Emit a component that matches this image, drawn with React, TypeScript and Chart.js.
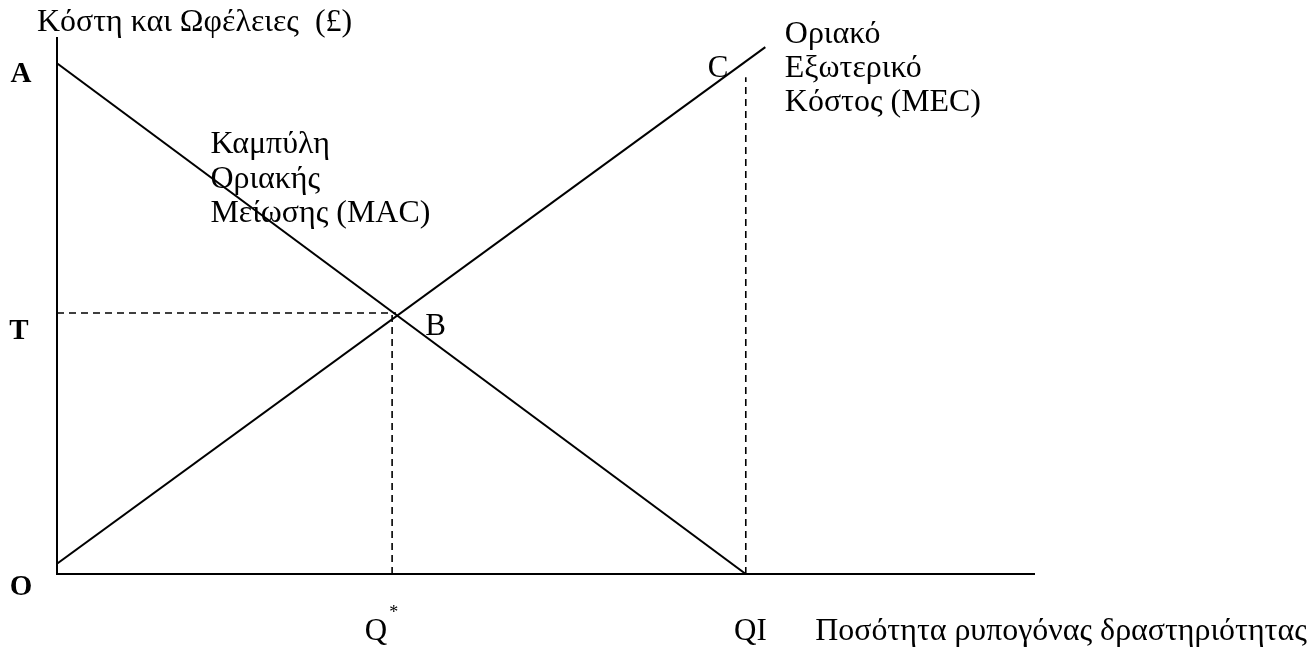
import React, { useEffect, useRef } from "react";
import { Chart, registerables } from "chart.js";

Chart.register(...registerables);

// Curves (x: quantity of polluting activity, y: costs & benefits), axis range 0..100
const macCurve = [
  { x: 0, y: 95.3 },
  { x: 70.5, y: 0 },
];
const mecCurve = [
  { x: 0, y: 1.9 },
  { x: 72.5, y: 98.3 },
];
const tLevel = 48.7;
const qStar = 34.3;
const qI = 70.5;
const cLevel = 92.7;
const bX = 34.7;

const SERIF = '"Liberation Serif", "Times New Roman", serif';

type Note = { text: string; x: number; y: number; size: number; bold?: boolean; align?: CanvasTextAlign; sx?: number };

const notes: Note[] = [
  { text: "Κόστη και Ωφέλειες  (£)", x: -2.05, y: 101.3, size: 31, sx: 1.03 },
  { text: "A", x: -3.68, y: 91.8, size: 29, bold: true, align: "center" },
  { text: "T", x: -3.89, y: 43.8, size: 29, bold: true, align: "center" },
  { text: "O", x: -3.68, y: -3.9, size: 29, bold: true, align: "center" },
  { text: "B", x: 37.7, y: 44.6, size: 31 },
  { text: "C", x: 66.6, y: 92.7, size: 31 },
  { text: "Q", x: 31.5, y: -12.3, size: 31 },
  { text: "*", x: 34.0, y: -8.2, size: 18 },
  { text: "QI", x: 69.3, y: -12.3, size: 31 },
  { text: "Ποσότητα ρυπογόνας δραστηριότητας", x: 77.6, y: -12.3, size: 31, sx: 1.03 },
  { text: "Οριακό", x: 74.5, y: 99.1, size: 31, sx: 1.03 },
  { text: "Εξωτερικό", x: 74.5, y: 92.7, size: 31, sx: 1.03 },
  { text: "Κόστος (MEC)", x: 74.5, y: 86.4, size: 31, sx: 1.03 },
  { text: "Καμπύλη", x: 15.7, y: 78.5, size: 31, sx: 1.03 },
  { text: "Οριακής", x: 15.7, y: 72.1, size: 31, sx: 1.03 },
  { text: "Μείωσης (MAC)", x: 15.7, y: 65.7, size: 31, sx: 1.03 },
];

const notesPlugin = {
  id: "notes",
  afterDraw(chart: any) {
    const ctx = chart.ctx as CanvasRenderingContext2D;
    const xs = chart.scales.x;
    const ys = chart.scales.y;
    for (const n of notes) {
      ctx.save();
      ctx.fillStyle = "#000";
      ctx.textBaseline = "alphabetic";
      ctx.font = `${n.bold ? "bold " : ""}${n.size}px ${SERIF}`;
      ctx.textAlign = n.align || "left";
      ctx.translate(xs.getPixelForValue(n.x), ys.getPixelForValue(n.y));
      ctx.scale(n.sx || 1, 1);
      ctx.fillText(n.text, 0, 0);
      ctx.restore();
    }
  },
};

export default function App() {
  const ref = useRef<HTMLCanvasElement | null>(null);
  useEffect(() => {
    if (!ref.current) return;
    const solid = { borderColor: "#000", borderWidth: 2, pointRadius: 0, showLine: true, fill: false };
    const dashed = { borderColor: "#000", borderWidth: 1.6, borderDash: [7, 5], pointRadius: 0, showLine: true, fill: false };
    const chart = new Chart(ref.current, {
      type: "scatter",
      data: {
        datasets: [
          { label: "MAC", data: macCurve, ...solid },
          { label: "MEC", data: mecCurve, ...solid },
          { label: "T", data: [{ x: 0, y: tLevel }, { x: bX, y: tLevel }], ...dashed },
          { label: "Q*", data: [{ x: qStar, y: 0 }, { x: qStar, y: tLevel }], ...dashed },
          { label: "QI", data: [{ x: qI, y: 0 }, { x: qI, y: cLevel }], ...dashed },
        ],
      },
      options: {
        animation: false,
        responsive: false,
        layout: { padding: { left: 57, right: 277, top: 38, bottom: 73 } },
        plugins: { legend: { display: false }, tooltip: { enabled: false } },
        scales: {
          x: {
            type: "linear",
            min: 0,
            max: 100,
            grid: { display: false },
            ticks: { display: false },
            border: { display: true, color: "#000", width: 2 },
            afterFit: (s: any) => {
              s.height = 0;
            },
          },
          y: {
            type: "linear",
            min: 0,
            max: 100,
            grid: { display: false },
            ticks: { display: false },
            border: { display: true, color: "#000", width: 2 },
            afterFit: (s: any) => {
              s.width = 0;
            },
          },
        },
      },
      plugins: [notesPlugin],
    } as any);
    return () => chart.destroy();
  }, []);
  return (
    <div style={{ position: "absolute", left: 0, top: 0, width: 1311, height: 647, background: "#fff" }}>
      <canvas ref={ref} width={1311} height={647} style={{ width: 1311, height: 647, display: "block" }} />
    </div>
  );
}
